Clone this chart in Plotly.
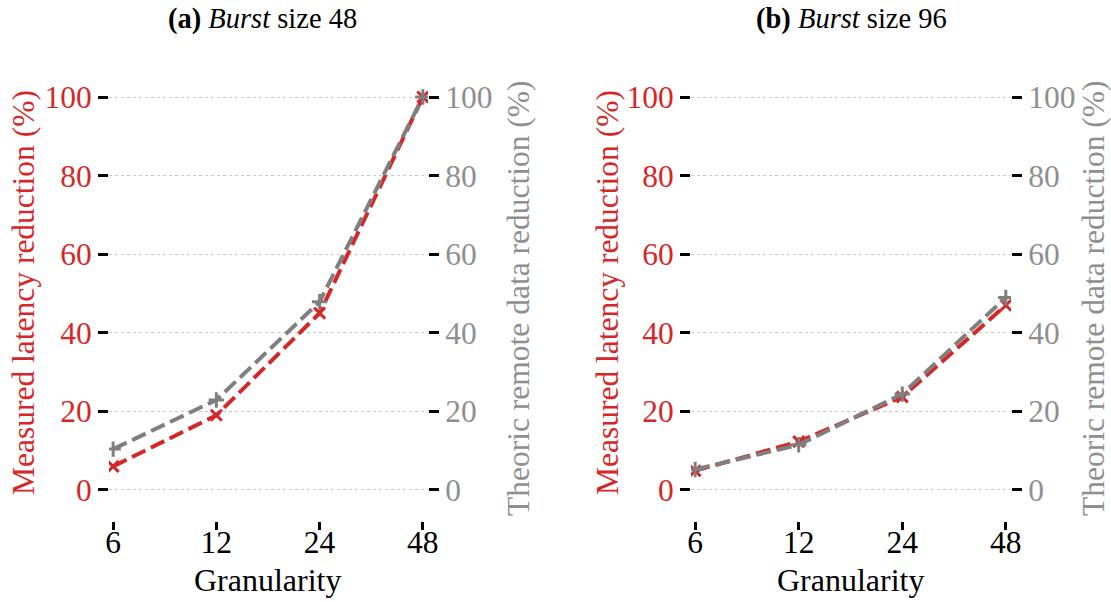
import plotly.graph_objects as go

granularity = ["6", "12", "24", "48"]
latency_a = [6.0, 19.0, 45.0, 100.0]
theoric_a = [10.4, 22.9, 47.9, 100.0]
latency_b = [4.9, 12.3, 23.7, 47.0]
theoric_b = [5.2, 11.5, 24.4, 49.0]
y_ticks = [0, 20, 40, 60, 80, 100]
titles = ["<b>(a)</b> <i>Burst</i> size 48", "<b>(b)</b> <i>Burst</i> size 96"]

RED = "#d62728"
GRAY = "#7f7f7f"
GRAY_TXT = "#8f8f8f"
FONT = "'Liberation Serif', 'Times New Roman', 'DejaVu Serif', serif"
W, H = 1111, 602

def px(xp):
    return xp / W

def py(yp):
    return 1 - yp / H

ydom = [py(521.4), py(65.6)]
xdoms = [[px(109), px(428)], [px(691), px(1011)]]
yrange = [-8, 108]
xrange_ = [-0.04, 3.05]

fig = go.Figure()

panels = [(latency_a, theoric_a), (latency_b, theoric_b)]
for i, (lat, theo) in enumerate(panels):
    xa = "x" if i == 0 else "x2"
    yl = "y" if i == 0 else "y3"
    yr = "y2" if i == 0 else "y4"
    fig.add_trace(go.Scatter(
        x=granularity, y=lat, xaxis=xa, yaxis=yl, mode="lines+markers",
        line=dict(color=RED, width=4, dash="15px,6px"),
        marker=dict(symbol="x-thin", size=11, line=dict(color=RED, width=3)),
        showlegend=False))
    fig.add_trace(go.Scatter(
        x=granularity, y=theo, xaxis=xa, yaxis=yr, mode="lines+markers",
        line=dict(color=GRAY, width=4, dash="15px,6px"),
        marker=dict(symbol="cross-thin", size=11, line=dict(color=GRAY, width=3)),
        showlegend=False))

TICK_SIZE = 31.5
tickfont_black = dict(family=FONT, size=TICK_SIZE, color="black")
tickfont_red = dict(family=FONT, size=TICK_SIZE, color=RED)
tickfont_gray = dict(family=FONT, size=TICK_SIZE, color=GRAY_TXT)

def xaxis_cfg(dom, anchor):
    return dict(domain=dom, anchor=anchor, type="category", range=xrange_,
                showline=False, showgrid=False, zeroline=False,
                ticks="outside", ticklen=8, tickwidth=2.5, tickcolor="black",
                ticklabelstandoff=-15,
                tickfont=tickfont_black, automargin=False)

def yleft_cfg(anchor):
    return dict(domain=ydom, anchor=anchor, range=yrange, tickvals=y_ticks,
                showline=False, zeroline=False, showgrid=True,
                gridcolor="#c8c8c8", gridwidth=1, griddash="dot",
                ticks="outside", ticklen=10, tickwidth=2.5, tickcolor="black",
                tickfont=tickfont_red, automargin=False)

def yright_cfg(anchor, overlay):
    return dict(domain=ydom, anchor=anchor, overlaying=overlay, side="right",
                range=yrange, tickvals=y_ticks, showline=False, zeroline=False,
                showgrid=False, ticks="outside", ticklen=10, tickwidth=2.5,
                tickcolor="black", tickfont=tickfont_gray, automargin=False)

fig.update_layout(
    width=W, height=H,
    margin=dict(l=0, r=0, t=0, b=0),
    paper_bgcolor="white", plot_bgcolor="white",
    font=dict(family=FONT),
    xaxis=xaxis_cfg(xdoms[0], "y"),
    yaxis=yleft_cfg("x"),
    yaxis2=yright_cfg("x", "y"),
    xaxis2=xaxis_cfg(xdoms[1], "y3"),
    yaxis3=yleft_cfg("x2"),
    yaxis4=yright_cfg("x2", "y3"),
)

annotations = []
title_x = [262, 851]
left_title_x = [23, 607]
right_title_x = [518, 1093]
xlabel_x = [268, 851]
for i in range(2):
    annotations.append(dict(text=titles[i], x=px(title_x[i]), y=py(19),
                            xref="paper", yref="paper", showarrow=False,
                            xanchor="center", yanchor="middle",
                            font=dict(family=FONT, size=28.5, color="black")))
    annotations.append(dict(text="Measured latency reduction (%)", x=px(left_title_x[i]),
                            y=py(293), xref="paper", yref="paper", showarrow=False,
                            textangle=-90, xanchor="center", yanchor="middle",
                            font=dict(family=FONT, size=31.5, color=RED)))
    annotations.append(dict(text="Theoric remote data reduction (%)", x=px(right_title_x[i]),
                            y=py(298), xref="paper", yref="paper", showarrow=False,
                            textangle=-90, xanchor="center", yanchor="middle",
                            font=dict(family=FONT, size=31.5, color=GRAY_TXT)))
    annotations.append(dict(text="Granularity", x=px(xlabel_x[i]), y=py(580),
                            xref="paper", yref="paper", showarrow=False,
                            xanchor="center", yanchor="middle",
                            font=dict(family=FONT, size=32, color="black")))
fig.update_layout(annotations=annotations)

fig.write_html("out.html")
